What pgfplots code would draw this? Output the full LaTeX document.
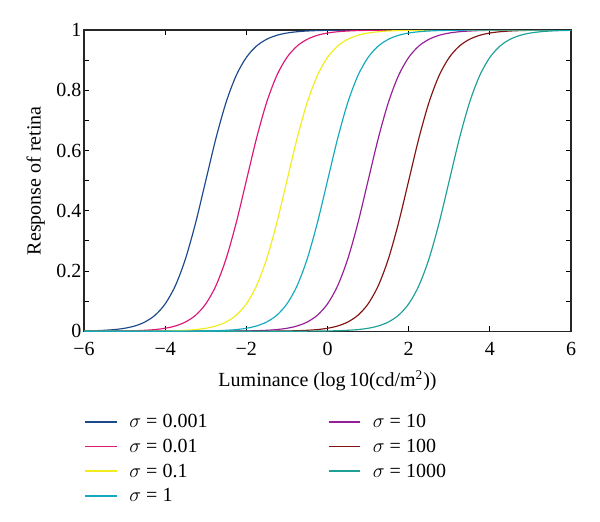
\documentclass[border=0pt]{standalone}
\usepackage{fontspec}
\setmainfont{Liberation Serif}
\usepackage{pgfplots}
\pgfplotsset{compat=1.18}
\definecolor{cA}{HTML}{1C488C}
\definecolor{cB}{HTML}{DC1978}
\definecolor{cC}{HTML}{F2EC1E}
\definecolor{cD}{HTML}{14AABE}
\definecolor{cE}{HTML}{961E96}
\definecolor{cF}{HTML}{821414}
\definecolor{cG}{HTML}{1EA096}
\begin{document}
\begin{tikzpicture}[font=\fontsize{12}{14}\selectfont]
\begin{axis}[
  name=ax,
  scale only axis,
  width=292pt, height=180.6pt,
  xmin=-6, xmax=6, ymin=0, ymax=1,
  xtick={-6,-4,...,6},
  xticklabels={−6,−4,−2,0,2,4,6},
  ytick={0,0.2,...,1},
  minor ytick={0.1,0.3,0.5,0.7,0.9},
  tick align=inside,
  major tick length=3pt, minor tick length=3pt,
  tick style={black, line width=0.6pt},
  axis line style={line width=0.7pt, black!85},
  /pgf/number format/assume math mode=true,
  xticklabel style={yshift=-3pt},
  yticklabel style={xshift=2pt},
  xlabel={Luminance (log\,10(cd/m\textsuperscript{2}))},
  xlabel style={yshift=-2pt},
  ylabel={Response of retina},
  every axis plot/.append style={line width=0.7pt, smooth, no markers},
  legend style={draw=none, fill=none, at={(0,-0.264)}, anchor=north west,
    inner sep=0pt, row sep=1.8pt,
    nodes={inner sep=0pt, text height=10pt, text depth=3pt}},
  legend columns=2,
  legend cell align=left,
  legend image code/.code={\draw[#1, line width=1pt] (0pt,0pt) -- (19pt,0pt);},
  legend style={/tikz/every odd column/.append style={column sep=7pt}},
]
\addplot[cA] coordinates {(-6,0.0010)(-5.75,0.0018)(-5.5,0.0032)(-5.25,0.0056)(-5,0.0099)(-4.75,0.0175)(-4.5,0.0307)(-4.25,0.0532)(-4,0.0909)(-3.75,0.1510)(-3.5,0.2403)(-3.25,0.3599)(-3,0.5000)(-2.75,0.6401)(-2.5,0.7597)(-2.25,0.8490)(-2,0.9091)(-1.75,0.9468)(-1.5,0.9693)(-1.25,0.9825)(-1,0.9901)(-0.75,0.9944)(-0.5,0.9968)(-0.25,0.9982)(0,0.9990)(0.25,0.9994)(0.5,0.9997)(0.75,0.9998)(1,0.9999)(6,1)};
\addlegendentry{\makebox[119pt][l]{$\sigma$ = 0.001}}
\addplot[cE] coordinates {(-6,0)(-3,0.0001)(-2.75,0.0002)(-2.5,0.0003)(-2.25,0.0006)(-2,0.0010)(-1.75,0.0018)(-1.5,0.0032)(-1.25,0.0056)(-1,0.0099)(-0.75,0.0175)(-0.5,0.0307)(-0.25,0.0532)(0,0.0909)(0.25,0.1510)(0.5,0.2403)(0.75,0.3599)(1,0.5000)(1.25,0.6401)(1.5,0.7597)(1.75,0.8490)(2,0.9091)(2.25,0.9468)(2.5,0.9693)(2.75,0.9825)(3,0.9901)(3.25,0.9944)(3.5,0.9968)(3.75,0.9982)(4,0.9990)(4.25,0.9994)(4.5,0.9997)(4.75,0.9998)(5,0.9999)(6,1)};
\addlegendentry{$\sigma$ = 10}
\addplot[cB] coordinates {(-6,0.0001)(-5.75,0.0002)(-5.5,0.0003)(-5.25,0.0006)(-5,0.0010)(-4.75,0.0018)(-4.5,0.0032)(-4.25,0.0056)(-4,0.0099)(-3.75,0.0175)(-3.5,0.0307)(-3.25,0.0532)(-3,0.0909)(-2.75,0.1510)(-2.5,0.2403)(-2.25,0.3599)(-2,0.5000)(-1.75,0.6401)(-1.5,0.7597)(-1.25,0.8490)(-1,0.9091)(-0.75,0.9468)(-0.5,0.9693)(-0.25,0.9825)(0,0.9901)(0.25,0.9944)(0.5,0.9968)(0.75,0.9982)(1,0.9990)(1.25,0.9994)(1.5,0.9997)(1.75,0.9998)(2,0.9999)(6,1)};
\addlegendentry{$\sigma$ = 0.01}
\addplot[cF] coordinates {(-6,0)(-2,0.0001)(-1.75,0.0002)(-1.5,0.0003)(-1.25,0.0006)(-1,0.0010)(-0.75,0.0018)(-0.5,0.0032)(-0.25,0.0056)(0,0.0099)(0.25,0.0175)(0.5,0.0307)(0.75,0.0532)(1,0.0909)(1.25,0.1510)(1.5,0.2403)(1.75,0.3599)(2,0.5000)(2.25,0.6401)(2.5,0.7597)(2.75,0.8490)(3,0.9091)(3.25,0.9468)(3.5,0.9693)(3.75,0.9825)(4,0.9901)(4.25,0.9944)(4.5,0.9968)(4.75,0.9982)(5,0.9990)(5.25,0.9994)(5.5,0.9997)(5.75,0.9998)(6,0.9999)};
\addlegendentry{$\sigma$ = 100}
\addplot[cC] coordinates {(-6,0)(-5,0.0001)(-4.75,0.0002)(-4.5,0.0003)(-4.25,0.0006)(-4,0.0010)(-3.75,0.0018)(-3.5,0.0032)(-3.25,0.0056)(-3,0.0099)(-2.75,0.0175)(-2.5,0.0307)(-2.25,0.0532)(-2,0.0909)(-1.75,0.1510)(-1.5,0.2403)(-1.25,0.3599)(-1,0.5000)(-0.75,0.6401)(-0.5,0.7597)(-0.25,0.8490)(0,0.9091)(0.25,0.9468)(0.5,0.9693)(0.75,0.9825)(1,0.9901)(1.25,0.9944)(1.5,0.9968)(1.75,0.9982)(2,0.9990)(2.25,0.9994)(2.5,0.9997)(2.75,0.9998)(3,0.9999)(6,1)};
\addlegendentry{$\sigma$ = 0.1}
\addplot[cG] coordinates {(-6,0)(-1,0.0001)(-0.75,0.0002)(-0.5,0.0003)(-0.25,0.0006)(0,0.0010)(0.25,0.0018)(0.5,0.0032)(0.75,0.0056)(1,0.0099)(1.25,0.0175)(1.5,0.0307)(1.75,0.0532)(2,0.0909)(2.25,0.1510)(2.5,0.2403)(2.75,0.3599)(3,0.5000)(3.25,0.6401)(3.5,0.7597)(3.75,0.8490)(4,0.9091)(4.25,0.9468)(4.5,0.9693)(4.75,0.9825)(5,0.9901)(5.25,0.9944)(5.5,0.9968)(5.75,0.9982)(6,0.9990)};
\addlegendentry{$\sigma$ = 1000}
\addplot[cD] coordinates {(-6,0)(-4,0.0001)(-3.75,0.0002)(-3.5,0.0003)(-3.25,0.0006)(-3,0.0010)(-2.75,0.0018)(-2.5,0.0032)(-2.25,0.0056)(-2,0.0099)(-1.75,0.0175)(-1.5,0.0307)(-1.25,0.0532)(-1,0.0909)(-0.75,0.1510)(-0.5,0.2403)(-0.25,0.3599)(0,0.5000)(0.25,0.6401)(0.5,0.7597)(0.75,0.8490)(1,0.9091)(1.25,0.9468)(1.5,0.9693)(1.75,0.9825)(2,0.9901)(2.25,0.9944)(2.5,0.9968)(2.75,0.9982)(3,0.9990)(3.25,0.9994)(3.5,0.9997)(3.75,0.9998)(4,0.9999)(6,1)};
\addlegendentry{$\sigma$ = 1}
\coordinate (bbl) at (axis description cs:-0.1725,-0.631);
\coordinate (btr) at (axis description cs:1.0595,1.0997);
\end{axis}
\path (bbl) rectangle (btr);
\end{tikzpicture}
\end{document}
